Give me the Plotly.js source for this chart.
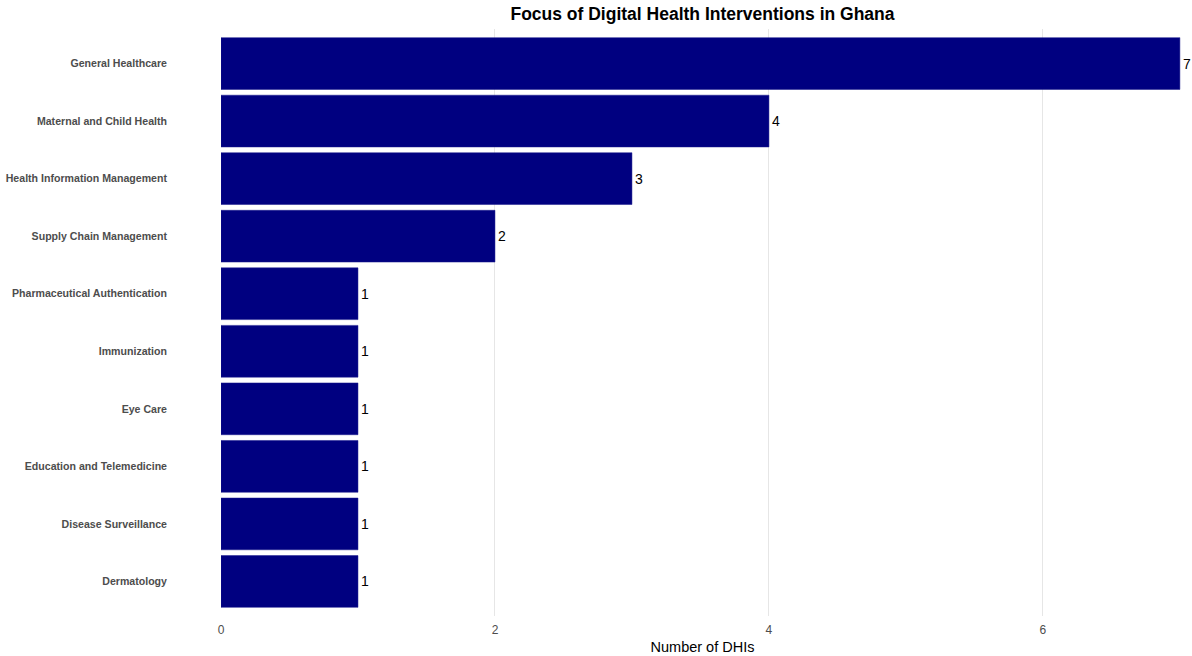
<!DOCTYPE html>
<html>
<head>
<meta charset="utf-8">
<script src="https://cdn.plot.ly/plotly-3.0.1.min.js"></script>
<style>html,body{margin:0;padding:0;background:#fff;}#chart{width:1192px;height:656px;}</style>
</head>
<body>
<div id="chart"></div>
<script>
// Categories listed bottom to top
const categories = [
  "Dermatology",
  "Disease Surveillance",
  "Education and Telemedicine",
  "Eye Care",
  "Immunization",
  "Pharmaceutical Authentication",
  "Supply Chain Management",
  "Health Information Management",
  "Maternal and Child Health",
  "General Healthcare"
];
const counts = [1, 1, 1, 1, 1, 1, 2, 3, 4, 7];
const xTicks = [0, 2, 4, 6];

const trace = {
  type: "bar",
  orientation: "h",
  y: categories,
  x: counts,
  text: counts.map(String),
  textposition: "outside",
  cliponaxis: false,
  textfont: {family: "Arial, Liberation Sans, sans-serif", size: 14, color: "#000000"},
  marker: {color: "#000080", line: {color: "#1a1a8c", width: 0.5}},
  width: 0.9,
  hoverinfo: "x+y"
};

const layout = {
  width: 1192,
  height: 656,
  margin: {l: 221, r: 8, t: 29, b: 40},
  paper_bgcolor: "#ffffff",
  plot_bgcolor: "#ffffff",
  showlegend: false,
  title: {
    text: "<b>Focus of Digital Health Interventions in Ghana</b>",
    font: {family: "Arial, Liberation Sans, sans-serif", size: 17.5, color: "#000000"},
    x: 0.5, xref: "paper", xanchor: "center",
    y: 0.979, yref: "container", yanchor: "middle"
  },
  xaxis: {
    range: [0, 7.03],
    tickvals: xTicks,
    ticktext: xTicks.map(String),
    showgrid: true,
    gridcolor: "#e6e6e6",
    gridwidth: 1,
    zeroline: false,
    showline: false,
    ticks: "",
    ticklen: 0,
    ticklabelstandoff: 5,
    tickfont: {family: "Arial, Liberation Sans, sans-serif", size: 12, color: "#4d4d4d"},
    title: {
      text: "Number of DHIs",
      font: {family: "Arial, Liberation Sans, sans-serif", size: 14.5, color: "#000000"},
      standoff: 5
    },
    automargin: false,
    fixedrange: true
  },
  yaxis: {
    type: "category",
    categoryorder: "array",
    categoryarray: categories,
    range: [-0.6, 9.6],
    showgrid: false,
    zeroline: false,
    showline: false,
    ticks: "",
    ticklen: 0,
    ticklabelstandoff: 53,
    tickfont: {family: "Arial, Liberation Sans, sans-serif", size: 10.6, color: "#4d4d4d", weight: "bold"},
    automargin: false,
    fixedrange: true
  },
  bargap: 0.1
};

Plotly.newPlot("chart", [trace], layout, {displayModeBar: false, staticPlot: true});
</script>
</body>
</html>
